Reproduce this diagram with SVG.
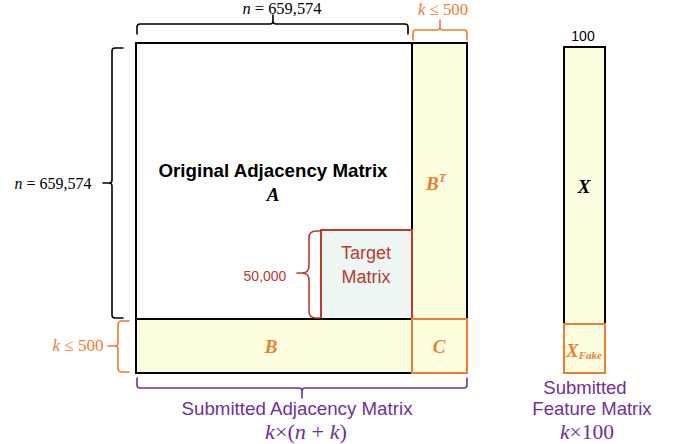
<svg xmlns="http://www.w3.org/2000/svg" width="678" height="444" viewBox="0 0 678 444">
<style>
.sans{font-family:"Liberation Sans",Arial,sans-serif}
.math{font-family:"Liberation Serif","DejaVu Serif",serif}
.mi{font-style:italic}
.lbl{font-family:"Liberation Serif","DejaVu Serif",serif;font-style:italic;font-weight:bold;font-size:19px;text-anchor:middle}
.yel{fill:#FDFDE0}
.brace{fill:none;stroke-width:1.6;stroke-linejoin:round;stroke-linecap:round}
</style>
<rect width="678" height="444" fill="#fff"/>
<g id="matrixA">
<rect x="136" y="43" width="276" height="276" fill="#fff" stroke="#000" stroke-width="2"/>
<text class="sans" x="273" y="177" font-size="19" font-weight="bold" text-anchor="middle" textLength="229" lengthAdjust="spacingAndGlyphs">Original Adjacency Matrix</text>
<text class="lbl" x="273" y="201" fill="#000">A</text>
</g>
<g id="matrixBT">
<rect class="yel" x="412" y="43" width="55" height="276" stroke="#000" stroke-width="2"/>
<text class="lbl" x="436" y="190" fill="#ED7D31">B<tspan font-size="12" dy="-8">T</tspan></text>
</g>
<g id="target">
<rect x="321" y="230" width="91" height="89" fill="#EEF6F4" stroke="#C0392B" stroke-width="2"/>
<text class="sans" x="366" y="259" font-size="18" fill="#C0392B" text-anchor="middle">Target</text>
<text class="sans" x="366" y="283" font-size="18" fill="#C0392B" text-anchor="middle">Matrix</text>
</g>
<g id="matrixB">
<rect class="yel" x="136" y="319" width="276" height="54" stroke="#000" stroke-width="2"/>
<text class="lbl" x="271" y="353" fill="#ED7D31">B</text>
</g>
<g id="matrixC">
<rect class="yel" x="412" y="319" width="55" height="54" stroke="#ED7D31" stroke-width="2"/>
<text class="lbl" x="439" y="353" fill="#ED7D31">C</text>
</g>
<g id="matrixX">
<rect class="yel" x="564" y="47" width="41" height="277" stroke="#000" stroke-width="2"/>
<text class="lbl" x="584" y="193" fill="#000">X</text>
<text class="sans" x="583" y="41" font-size="14" text-anchor="middle">100</text>
</g>
<g id="matrixXFake">
<rect class="yel" x="564" y="324" width="41" height="49" stroke="#ED7D31" stroke-width="2"/>
<text class="lbl" x="584" y="357" fill="#ED7D31">X<tspan font-size="11" dy="2">Fake</tspan></text>
</g>
<g id="connectors">
<path class="brace" stroke="#000" d="M137,34 V27 Q137,24 140,24 H270 Q273,24 273,21 V15 M273,21 Q273,24 276,24 H405 Q408,24 408,27 V34"/>
<path class="brace" stroke="#ED7D31" d="M413,40 V33 Q413,30 416,30 H437 Q440,30 440,27 V20 M440,27 Q440,30 443,30 H464 Q467,30 467,33 V40"/>
<path class="brace" stroke="#000" d="M123,48 H115 Q112,48 112,51 V180 Q112,183 109,183 H103 M109,183 Q112,183 112,186 V315 Q112,318 115,318 H123"/>
<path class="brace" stroke="#ED7D31" d="M129,321 H122 Q118,321 118,325 V343 Q118,346 115,346 H108 M115,346 Q118,346 118,349 V368 Q118,372 122,372 H129"/>
<path class="brace" stroke="#C0392B" d="M320,231 H316 Q309,231 309,238 V266 Q309,273 302,273 H297 M302,273 Q309,273 309,280 V311 Q309,318 316,318 H320"/>
<path class="brace" stroke="#7030A0" d="M137,378 V385 Q137,388 140,388 H299 Q302,388 302,391 V398 M302,391 Q302,388 305,388 H464 Q467,388 467,385 V378"/>
</g>
<g id="labels">
<text class="math" x="282" y="14" font-size="17" text-anchor="middle" textLength="79" lengthAdjust="spacingAndGlyphs"><tspan class="mi">n</tspan> = 659,574</text>
<text class="math" x="443" y="15" font-size="17" fill="#ED7D31" text-anchor="middle" textLength="50" lengthAdjust="spacingAndGlyphs"><tspan class="mi">k</tspan> ≤ 500</text>
<text class="math" x="53" y="189" font-size="17" text-anchor="middle" textLength="77" lengthAdjust="spacingAndGlyphs"><tspan class="mi">n</tspan> = 659,574</text>
<text class="math" x="78" y="351" font-size="17" fill="#ED7D31" text-anchor="middle" textLength="51" lengthAdjust="spacingAndGlyphs"><tspan class="mi">k</tspan> ≤ 500</text>
<text class="sans" x="265" y="281" font-size="14" fill="#C0392B" text-anchor="middle">50,000</text>
<text class="sans" x="297" y="415" font-size="18.5" fill="#7030A0" text-anchor="middle" textLength="231" lengthAdjust="spacingAndGlyphs">Submitted Adjacency Matrix</text>
<text class="math" x="306" y="439" font-size="20" fill="#7030A0" text-anchor="middle" textLength="82" lengthAdjust="spacingAndGlyphs"><tspan class="mi">k</tspan>×(<tspan class="mi">n</tspan> + <tspan class="mi">k</tspan>)</text>
<text class="sans" x="585" y="394" font-size="18.5" fill="#7030A0" text-anchor="middle">Submitted</text>
<text class="sans" x="592" y="415" font-size="18.5" fill="#7030A0" text-anchor="middle">Feature Matrix</text>
<text class="math" x="587" y="439" font-size="20" fill="#7030A0" text-anchor="middle" textLength="54" lengthAdjust="spacingAndGlyphs"><tspan class="mi">k</tspan>×100</text>
</g>
</svg>
